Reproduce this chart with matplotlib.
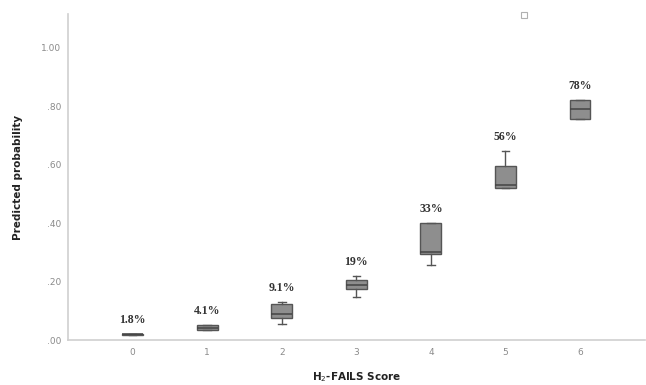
import matplotlib
matplotlib.use("Agg")
import matplotlib.pyplot as plt

scores = [0, 1, 2, 3, 4, 5, 6]
labels = ["1.8%", "4.1%", "9.1%", "19%", "33%", "56%", "78%"]
q1 = [0.018, 0.035, 0.075, 0.175, 0.295, 0.520, 0.757]
med = [0.019, 0.042, 0.090, 0.188, 0.300, 0.530, 0.790]
q3 = [0.021, 0.052, 0.123, 0.205, 0.400, 0.596, 0.822]
whislo = [0.018, 0.035, 0.055, 0.147, 0.257, 0.520, 0.757]
whishi = [0.021, 0.052, 0.130, 0.220, 0.400, 0.647, 0.822]
outlier_x = [5.25]
outlier_y = [1.113]
yticks = [0.0, 0.2, 0.4, 0.6, 0.8, 1.0]
ytick_labels = [".00", ".20", ".40", ".60", ".80", "1.00"]

fig = plt.figure(figsize=(6.46, 3.85), dpi=100)
ax = fig.add_axes([68/646, 1 - 340/385, 1 - 68/646 - 0.002, (340 - 14)/385])

stats = []
for i in range(len(scores)):
    stats.append(dict(med=med[i], q1=q1[i], q3=q3[i], whislo=whislo[i],
                      whishi=whishi[i], fliers=[], label=str(scores[i])))

edge = "#555555"
ax.bxp(stats, positions=scores, widths=0.28, patch_artist=True,
       showfliers=False,
       boxprops=dict(facecolor="#8e8e8e", edgecolor=edge, linewidth=1.0),
       medianprops=dict(color="#444444", linewidth=1.1),
       whiskerprops=dict(color=edge, linewidth=1.0),
       capprops=dict(color=edge, linewidth=1.0),
       capwidths=0.1)

ax.plot(outlier_x, outlier_y, linestyle="none", marker="s", markersize=4,
        markerfacecolor="white", markeredgecolor="#b0b0b0", markeredgewidth=0.8,
        clip_on=False)

for x, top, lab in zip(scores, whishi, labels):
    ax.annotate(lab, xy=(x, top), xytext=(0, 10), textcoords="offset points",
                ha="center", va="center", fontsize=8.5, fontweight="bold",
                family="Liberation Serif", color="#333333")

ax.set_xlim(-0.867, 6.867)
ax.set_ylim(0, 1.116)
ax.set_yticks(yticks)
ax.set_yticklabels(ytick_labels)
ax.set_xticks(scores)
ax.set_xticklabels([str(s) for s in scores])
ax.tick_params(axis="both", length=0, labelsize=6.5, colors="#8a8a8a")
ax.tick_params(axis="y", pad=5)
ax.tick_params(axis="x", pad=6)

for s in ["top", "right"]:
    ax.spines[s].set_visible(False)
for s in ["left", "bottom"]:
    ax.spines[s].set_color("#cfcfcf")
    ax.spines[s].set_linewidth(1.2)

ax.set_xlabel("H$_2$-FAILS Score", fontsize=7.5, fontweight="bold",
              color="#222222", labelpad=9)
ax.set_ylabel("Predicted probability", fontsize=7.5, fontweight="bold",
              color="#222222", labelpad=13)

fig.savefig("out.png", dpi=100)
